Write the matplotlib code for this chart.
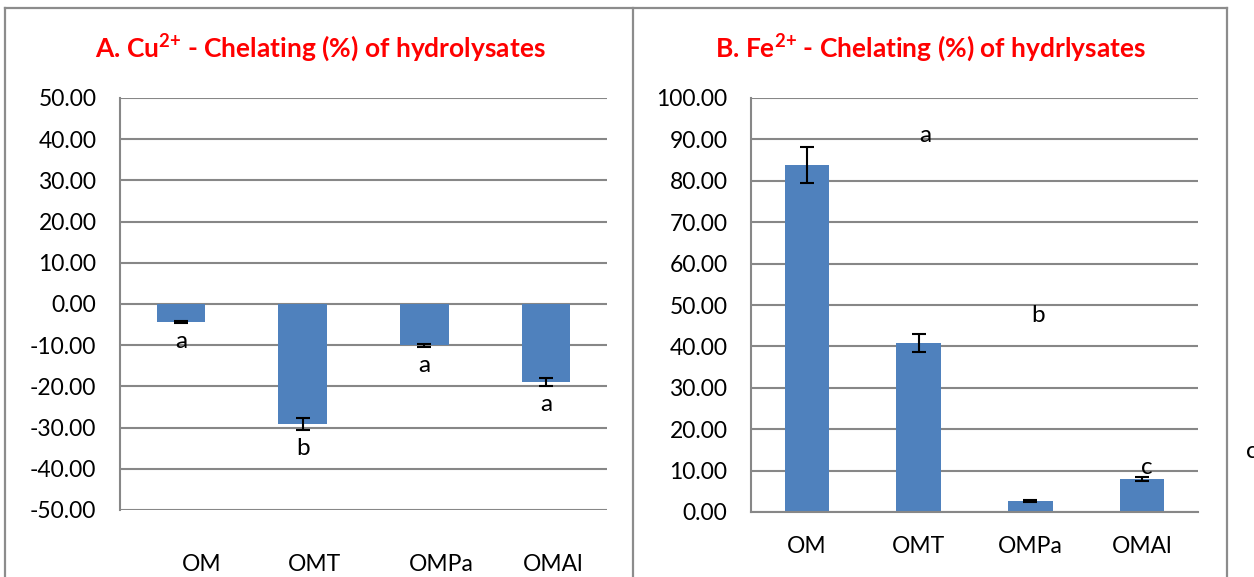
import matplotlib
matplotlib.use('Agg')
import matplotlib.pyplot as plt
import numpy as np
from matplotlib.lines import Line2D

plt.rcParams['font.family'] = ['Lato', 'DejaVu Sans']
plt.rcParams['mathtext.fontset'] = 'custom'
plt.rcParams['mathtext.bf'] = 'Lato:bold'
plt.rcParams['mathtext.rm'] = 'Lato'

# data
samples = ['OM', 'OMT', 'OMPa', 'OMAl']

cu_chelating = [-4.4, -29.1, -10.0, -18.9]
cu_err = [0.2, 1.5, 0.4, 1.0]
cu_letters = ['a', 'b', 'a', 'a']

fe_chelating = [83.8, 40.8, 2.7, 8.0]
fe_err = [4.3, 2.2, 0.2, 0.5]
fe_letters = ['a', 'b', 'c']
fe_letter_x = [1.06, 2.07, 3.04]       # letters sit shifted in the original
fe_letter_y = [91.0, 47.5, 10.8]

bar_color = '#4F81BD'
grid_color = '#878787'
title_color = '#FF0000'

W, H = 1254, 577
fig = plt.figure(figsize=(W / 100, H / 100), dpi=100)


def fx(px):
    return px / W


def fy(py):
    return 1 - py / H


def style_axes(ax, ylo, yhi, step):
    ax.set_ylim(ylo, yhi)
    ax.set_yticks(np.arange(ylo, yhi + step / 2, step))
    ax.yaxis.set_major_formatter(matplotlib.ticker.FormatStrFormatter('%.2f'))
    ax.grid(axis='y', color=grid_color, linewidth=1.5, zorder=0)
    ax.set_axisbelow(True)
    for s in ['top', 'right', 'bottom']:
        ax.spines[s].set_visible(False)
    ax.spines['left'].set_color(grid_color)
    ax.spines['left'].set_linewidth(1.5)
    ax.tick_params(axis='both', length=0, labelsize=16.5)
    ax.tick_params(axis='y', pad=17)
    ax.set_xlim(-0.5, len(samples) - 0.5)


x = np.arange(len(samples))

# ---- A. Cu2+
ax1 = fig.add_axes([fx(120), fy(510), fx(607) - fx(120), fy(98) - fy(510)])
style_axes(ax1, -50, 50, 10)
ax1.bar(x, cu_chelating, width=0.4, color=bar_color, zorder=2)
ax1.errorbar(x, cu_chelating, yerr=cu_err, fmt='none', ecolor='black',
             elinewidth=1.5, capsize=5, capthick=1.5, zorder=3)
for i in range(len(samples)):
    ax1.annotate(cu_letters[i], (x[i], cu_chelating[i] - cu_err[i]),
                 xytext=(0, -6), textcoords='offset points',
                 ha='center', va='top', fontsize=17.5)
label_shift = [0.17, 0.10, 0.14, 0.06]
ax1.set_xticks(x + np.array(label_shift))
ax1.set_xticklabels(samples)
ax1.tick_params(axis='x', pad=32)

# ---- B. Fe2+
ax2 = fig.add_axes([fx(751), fy(512), fx(1198) - fx(751), fy(98) - fy(512)])
style_axes(ax2, 0, 100, 10)
ax2.spines['bottom'].set_visible(True)
ax2.spines['bottom'].set_color(grid_color)
ax2.spines['bottom'].set_linewidth(1.5)
ax2.bar(x, fe_chelating, width=0.4, color=bar_color, zorder=2)
ax2.errorbar(x, fe_chelating, yerr=fe_err, fmt='none', ecolor='black',
             elinewidth=1.5, capsize=5, capthick=1.5, zorder=3)
for lx, ly, lt in zip(fe_letter_x, fe_letter_y, fe_letters):
    ax2.text(lx, ly, lt, ha='center', va='center', fontsize=17.5, zorder=4)
ax2.set_xticks(x)
ax2.set_xticklabels(samples)
ax2.tick_params(axis='x', pad=17)

# stray letter cut by the right edge
fig.text(fx(1246), fy(452), 'c', ha='left', va='center', fontsize=17.5)

# titles
fig.text(fx(320), fy(48), r'A. Cu$^{\mathbf{2{+}}}$ - Chelating (%) of hydrolysates',
         ha='center', va='center', fontsize=19, fontweight='bold', color=title_color)
fig.text(fx(931), fy(48), r'B. Fe$^{\mathbf{2{+}}}$ - Chelating (%) of hydrlysates',
         ha='center', va='center', fontsize=19, fontweight='bold', color=title_color)

# panel frames
frame = dict(color='#8C8C8C', linewidth=1.6, transform=fig.transFigure)
fig.add_artist(Line2D([fx(5), fx(1227)], [fy(8), fy(8)], **frame))
fig.add_artist(Line2D([fx(5), fx(5)], [fy(8), 0], **frame))
fig.add_artist(Line2D([fx(633), fx(633)], [fy(8), 0], **frame))
fig.add_artist(Line2D([fx(1227), fx(1227)], [fy(8), 0], **frame))

fig.savefig('out.png', dpi=100)
